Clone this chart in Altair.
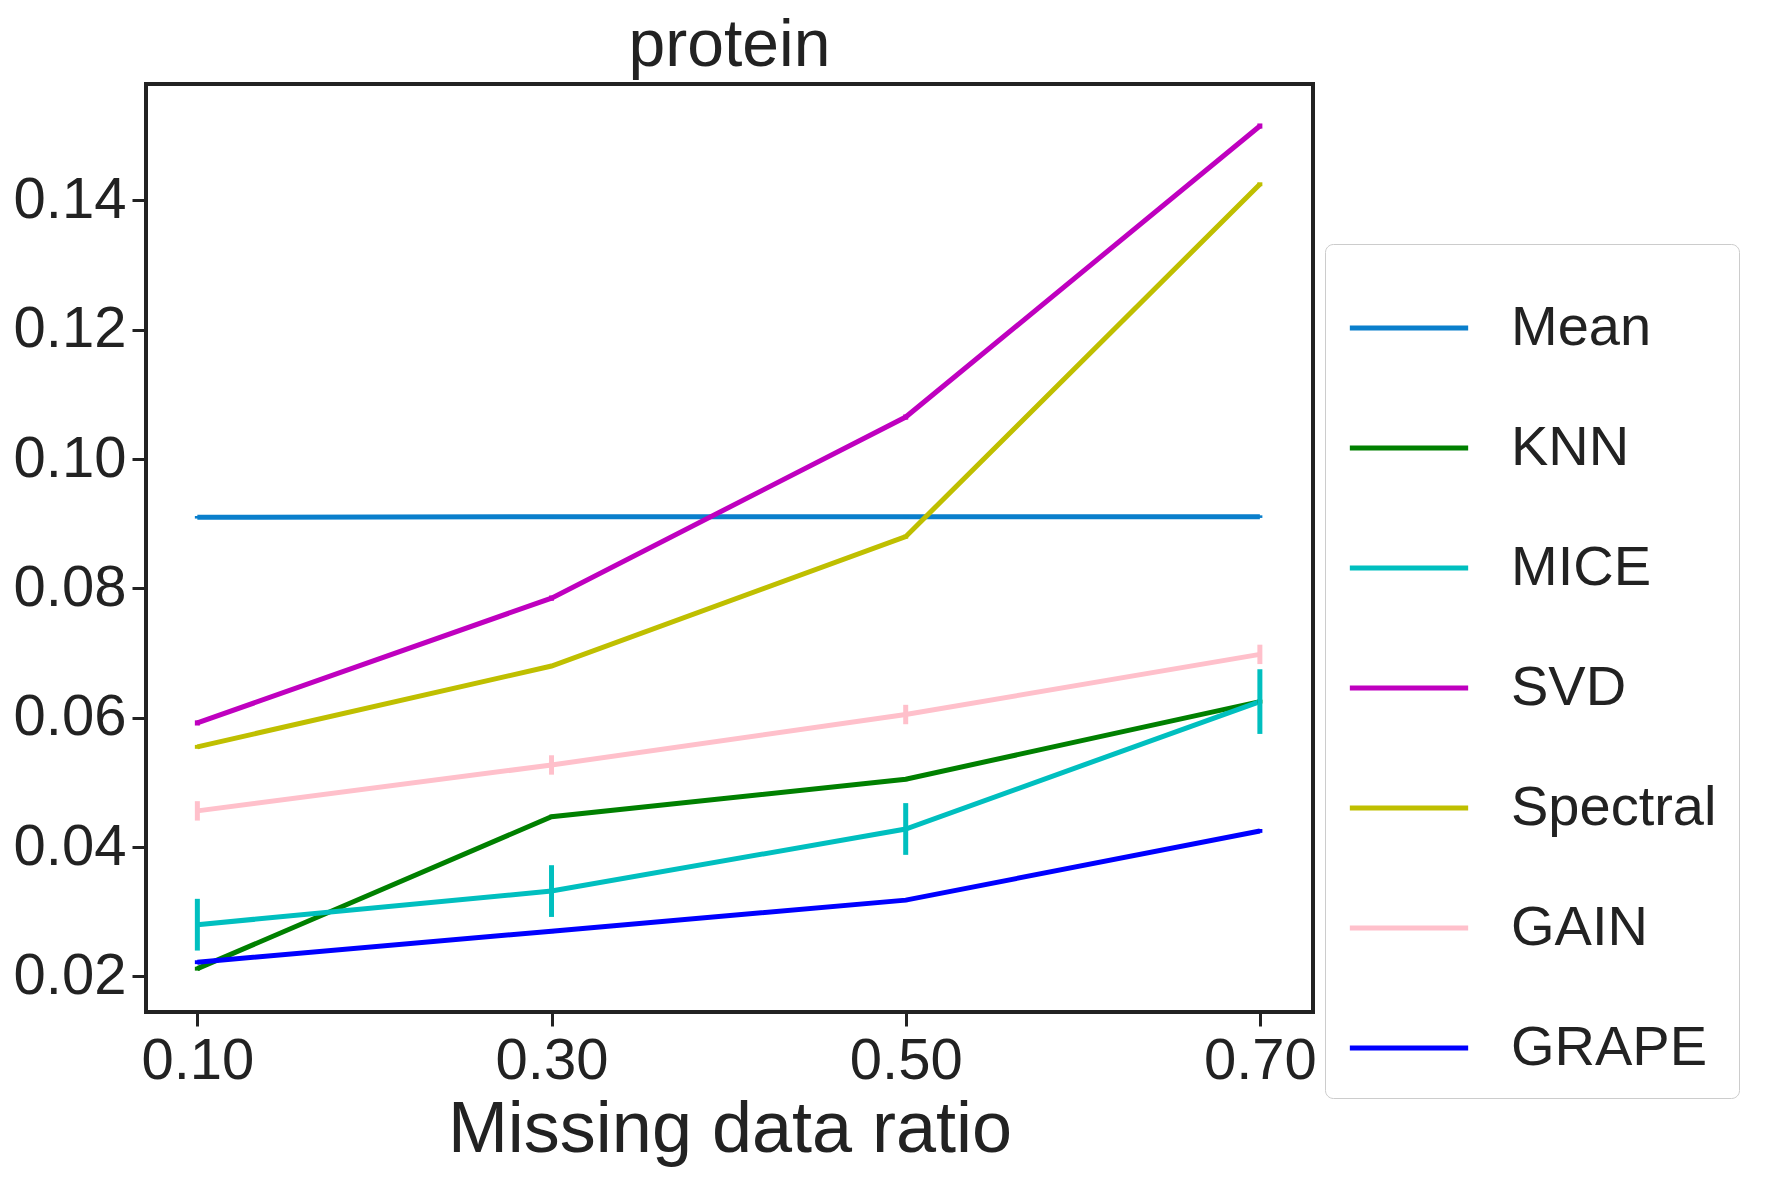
import altair as alt
import pandas as pd

ratios = [0.1, 0.3, 0.5, 0.7]
methods = ["Mean", "KNN", "MICE", "SVD", "Spectral", "GAIN", "GRAPE"]
colors = ["#0a7fcc", "#008000", "#00bfbf", "#bf00bf", "#bfbf00", "#ffc0cb", "#0000ff"]

values = {
    "Mean": [0.0910, 0.0911, 0.0911, 0.0911],
    "KNN": [0.0212, 0.0447, 0.0505, 0.0625],
    "MICE": [0.0280, 0.0332, 0.0428, 0.0625],
    "SVD": [0.0592, 0.0785, 0.1065, 0.1515],
    "Spectral": [0.0555, 0.0680, 0.0880, 0.1425],
    "GAIN": [0.0456, 0.0527, 0.0605, 0.0698],
    "GRAPE": [0.0222, 0.0270, 0.0318, 0.0425],
}
errors = {
    "Mean": [0.0002, 0.0002, 0.0002, 0.0002],
    "KNN": [0.0003, 0.0003, 0.0003, 0.0003],
    "MICE": [0.0040, 0.0040, 0.0040, 0.0050],
    "SVD": [0.0004, 0.0004, 0.0004, 0.0004],
    "Spectral": [0.0003, 0.0003, 0.0003, 0.0003],
    "GAIN": [0.0015, 0.0015, 0.0015, 0.0015],
    "GRAPE": [0.0003, 0.0003, 0.0003, 0.0003],
}

rows = []
for m in methods:
    for r, v, e in zip(ratios, values[m], errors[m]):
        rows.append({"method": m, "ratio": r, "value": v, "lo": v - e, "hi": v + e})
df = pd.DataFrame(rows)

color = alt.Color(
    "method:N",
    scale=alt.Scale(domain=methods, range=colors),
    legend=alt.Legend(
        title=None, symbolType="stroke", symbolStrokeWidth=5, symbolSize=14000,
        labelFontSize=56, labelFont="Liberation Sans", rowPadding=30,
        orient="none", legendX=1179, legendY=160, strokeColor="#cccccc",
        padding=22, cornerRadius=8, labelLimit=400, labelOffset=40,
    ),
)

x = alt.X(
    "ratio:Q",
    title="Missing data ratio",
    scale=alt.Scale(domain=[0.071, 0.730], nice=False, zero=False),
    axis=alt.Axis(values=ratios, format=".2f", labelFontSize=58, titleFontSize=72,
                  tickSize=14, tickWidth=3, grid=False, labelPadding=6, titleFontWeight="normal"),
)
y = alt.Y(
    "value:Q",
    title=None,
    scale=alt.Scale(domain=[0.0145, 0.158], nice=False, zero=False),
    axis=alt.Axis(values=[0.02, 0.04, 0.06, 0.08, 0.10, 0.12, 0.14], format=".2f",
                  labelFontSize=58, tickSize=14, tickWidth=3, grid=False, labelPadding=6),
)

lines = alt.Chart(df).mark_line(strokeWidth=5).encode(
    x=x, y=y, color=color, order=alt.Order("ratio:Q")
)
bars = alt.Chart(df).mark_rule(strokeWidth=5).encode(
    x="ratio:Q", y="lo:Q", y2="hi:Q",
    color=alt.Color("method:N", legend=None, scale=alt.Scale(domain=methods, range=colors)),
)

chart = (lines + bars).properties(
    width=1167, height=928,
    title=alt.TitleParams("protein", fontSize=66, fontWeight="normal", offset=4),
).configure_view(stroke="#222222", strokeWidth=4).configure_axis(
    domain=False, labelColor="#222222", titleColor="#222222", tickColor="#222222",
    labelFont="Liberation Sans", titleFont="Liberation Sans",
).configure_title(font="Liberation Sans", color="#222222").configure_legend(labelColor="#222222")

chart.save("out.html", embed_options={"renderer": "svg", "actions": False})
